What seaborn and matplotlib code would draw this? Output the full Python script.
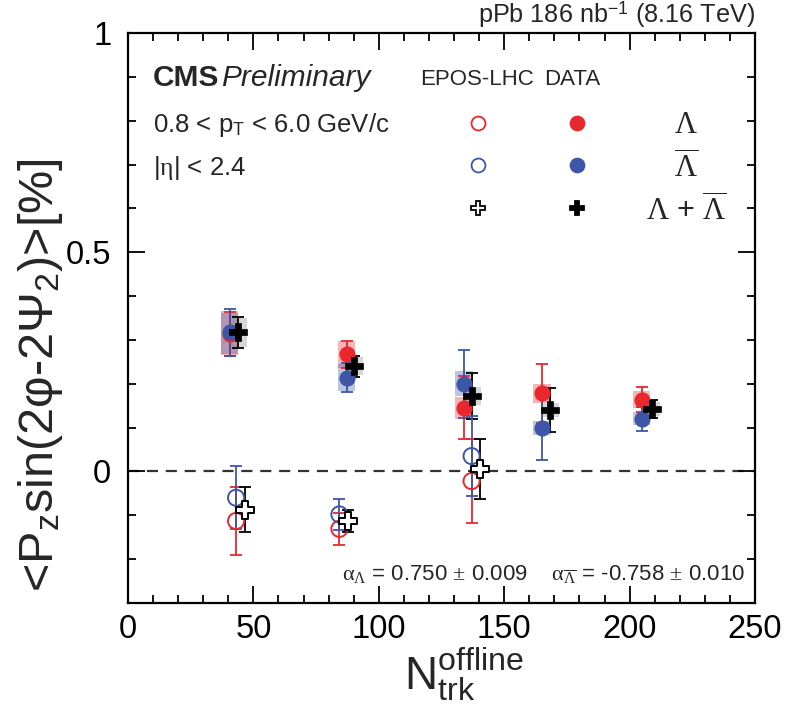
import numpy as np
import matplotlib
matplotlib.use('Agg')
import matplotlib.pyplot as plt
from matplotlib.lines import Line2D
from matplotlib.legend_handler import HandlerTuple
from matplotlib.ticker import MultipleLocator
import seaborn as sns

# --- du lieu doc tu hinh ---
# DATA (do thi day)
nch_data = [40.5, 87.2, 134.0, 165.0, 204.8]
nch_sum = [43.8, 90.2, 137.3, 168.3, 208.8]
lam_data = [0.313, 0.267, 0.145, 0.178, 0.164]
lam_stat = [0.050, 0.030, 0.072, 0.067, 0.029]
lam_syst = [0.048, 0.030, 0.025, 0.021, 0.020]
alam_data = [0.317, 0.214, 0.200, 0.100, 0.120]
alam_stat = [0.054, 0.033, 0.077, 0.073, 0.028]
alam_syst = [0.048, 0.030, 0.028, 0.016, 0.015]
sum_data = [0.317, 0.240, 0.172, 0.140, 0.143]
sum_stat = [0.036, 0.024, 0.052, 0.050, 0.020]
sum_syst = [0.033, 0.020, 0.020, 0.016, 0.016]

# EPOS-LHC (do thi rong)
nch_mc = [43.1, 84.3, 137.0]
nch_mc_sum = [46.6, 87.6, 140.3]
lam_mc = [-0.113, -0.131, -0.022]
lam_mc_err = [0.078, 0.036, 0.095]
alam_mc = [-0.060, -0.098, 0.035]
alam_mc_err = [0.072, 0.036, 0.091]
sum_mc = [-0.087, -0.113, 0.006]
sum_mc_err = [0.052, 0.024, 0.068]

RED = '#E8282D'
BLUE = '#3F56A8'
BOX_W = 7.0

sns.set_style('ticks')
plt.rcParams['font.family'] = ['Liberation Sans', 'DejaVu Sans']
plt.rcParams['mathtext.fontset'] = 'custom'
plt.rcParams['mathtext.rm'] = 'Liberation Serif'
plt.rcParams['mathtext.it'] = 'Liberation Serif:italic'
plt.rcParams['mathtext.bf'] = 'Liberation Serif:bold'
plt.rcParams['mathtext.sf'] = 'Liberation Sans'

fig = plt.figure(figsize=(7.89, 7.05), dpi=100)
ax = fig.add_axes([0.1622, 0.1447, 0.7947, 0.8085])

# hop sai so he thong
def syst_boxes(x, y, s, color, alpha):
    y = np.asarray(y); s = np.asarray(s)
    ax.bar(x, 2 * s, bottom=y - s, width=BOX_W, color=color, alpha=alpha,
           linewidth=0, zorder=1)

syst_boxes(nch_data, lam_data, lam_syst, RED, 0.35)
syst_boxes(nch_data, alam_data, alam_syst, BLUE, 0.35)
syst_boxes(nch_sum, sum_data, sum_syst, '#9a9a9a', 0.4)

ax.axhline(0, color='#333333', lw=1.6, ls=(0, (5, 3.5)), zorder=0)

eb = dict(fmt='none', elinewidth=1.3, capsize=4, capthick=1.3, zorder=2)
ax.errorbar(nch_data, lam_data, yerr=lam_stat, ecolor=RED, **eb)
ax.errorbar(nch_data, alam_data, yerr=alam_stat, ecolor=BLUE, **eb)
ax.errorbar(nch_sum, sum_data, yerr=sum_stat, ecolor='black', **eb)
ax.errorbar(nch_mc, lam_mc, yerr=lam_mc_err, ecolor=RED, **eb)
ax.errorbar(nch_mc, alam_mc, yerr=alam_mc_err, ecolor=BLUE, **eb)
ax.errorbar(nch_mc_sum, sum_mc, yerr=sum_mc_err, ecolor='black', **eb)

sns.scatterplot(x=nch_data, y=lam_data, ax=ax, marker='o', s=135,
                facecolor=RED, edgecolor=RED, linewidth=0, zorder=3)
sns.scatterplot(x=nch_data, y=alam_data, ax=ax, marker='o', s=135,
                facecolor=BLUE, edgecolor=BLUE, linewidth=0, zorder=3)
sns.scatterplot(x=nch_sum, y=sum_data, ax=ax, marker='P', s=180,
                facecolor='black', edgecolor='black', linewidth=0.5, zorder=4)
sns.scatterplot(x=nch_mc, y=lam_mc, ax=ax, marker='o', s=135,
                facecolor='none', edgecolor=RED, linewidth=1.4, zorder=3)
sns.scatterplot(x=nch_mc, y=alam_mc, ax=ax, marker='o', s=135,
                facecolor='none', edgecolor=BLUE, linewidth=1.4, zorder=3)
sns.scatterplot(x=nch_mc_sum, y=sum_mc, ax=ax, marker='P', s=180,
                facecolor='white', edgecolor='black', linewidth=1.4, zorder=4)

# truc
ax.set_xlim(0, 250)
ax.set_ylim(-0.3, 1.0)
ax.xaxis.set_major_locator(MultipleLocator(50))
ax.xaxis.set_minor_locator(MultipleLocator(10))
ax.yaxis.set_major_locator(MultipleLocator(0.5))
ax.yaxis.set_minor_locator(MultipleLocator(0.1))
ax.set_xticks([0, 50, 100, 150, 200, 250])
ax.set_xticklabels(['0', '50', '100', '150', '200', '250'])
ax.set_yticks([0, 0.5, 1.0])
ax.set_yticklabels(['0', '0.5', '1'])
ax.tick_params(which='both', direction='in', top=True, right=True, width=1.3,
               labelsize=23.5, color='black', labelcolor='black')
ax.tick_params(which='major', length=12, pad=8)
ax.tick_params(axis='y', which='major', pad=12)
ax.tick_params(which='minor', length=6)
for sp in ax.spines.values():
    sp.set_visible(True)
    sp.set_linewidth(1.6)
    sp.set_color('black')

ax.set_xlabel(r'$\mathsf{N}_{\mathsf{trk}}^{\mathsf{offline}}$', fontsize=33)
ax.xaxis.set_label_coords(0.535, -0.075)
ax.set_ylabel(r'<P$_\mathsf{z}$sin(2φ-2Ψ$_\mathsf{2}$)>[%]', fontsize=35)
ax.yaxis.set_label_coords(-0.10, 0.40)

# chu thich
ax.text(1.0, 1.005, r'pPb 186 nb$^{\mathsf{-1}}$ (8.16 TeV)', transform=ax.transAxes,
        ha='right', va='bottom', fontsize=18.2)
ax.text(0.040, 0.921, 'CMS', transform=ax.transAxes, ha='left', va='center',
        fontsize=21.5, fontweight='bold')
ax.text(0.149, 0.921, 'Preliminary', transform=ax.transAxes, ha='left', va='center',
        fontsize=21.5, fontstyle='italic')
ax.text(0.557, 0.919, 'EPOS-LHC', transform=ax.transAxes, ha='center', va='center',
        fontsize=16)
ax.text(0.708, 0.919, 'DATA', transform=ax.transAxes, ha='center', va='center',
        fontsize=16)
ax.text(0.040, 0.839, r'0.8 < p$_\mathsf{T}$ < 6.0 GeV/c', transform=ax.transAxes,
        ha='left', va='center', fontsize=18.5)
ax.text(0.040, 0.763, r'|$\mathrm{\eta}$| < 2.4', transform=ax.transAxes,
        ha='left', va='center', fontsize=18.5)
ax.text(0.890, 0.839, r'$\Lambda$', transform=ax.transAxes, ha='center', va='center',
        fontsize=22)
ax.text(0.890, 0.763, r'$\overline{\Lambda}$', transform=ax.transAxes, ha='center',
        va='center', fontsize=22)
ax.text(0.890, 0.688, r'$\Lambda$ + $\overline{\Lambda}$', transform=ax.transAxes,
        ha='center', va='center', fontsize=22)
ax.text(0.984, 0.049,
        r'$\mathrm{\alpha}_{\Lambda}$ = 0.750 $\pm$ 0.009    '
        r'$\mathrm{\alpha}_{\overline{\Lambda}}$ = -0.758 $\pm$ 0.010',
        transform=ax.transAxes, ha='right', va='center', fontsize=16)

# legend (marker EPOS / DATA)
def mk(marker, fc, ec, ms=10, mew=1.3):
    return Line2D([], [], ls='none', marker=marker, markersize=ms,
                  markerfacecolor=fc, markeredgecolor=ec, markeredgewidth=mew)

handles = [
    (mk('o', 'none', RED), mk('o', RED, RED)),
    (mk('o', 'none', BLUE), mk('o', BLUE, BLUE)),
    (mk('P', 'white', 'black', ms=10), mk('P', 'black', 'black', ms=10)),
]
fs_px = 20 * 100 / 72
ax.legend(handles=handles, labels=['', '', ''],
          handler_map={tuple: HandlerTuple(ndivide=None, pad=0)},
          handlelength=2 * 99 / fs_px, handletextpad=0, fontsize=20,
          labelspacing=0.6, frameon=False, loc='center',
          bbox_to_anchor=(0.637, 0.763), borderpad=0)

fig.savefig('out.png', dpi=100)
